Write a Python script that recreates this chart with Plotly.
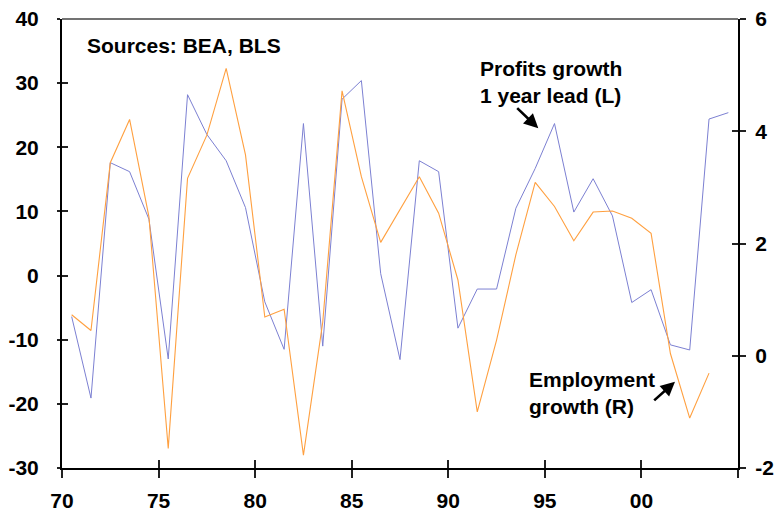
import plotly.graph_objects as go

# Data - annual values, plotted mid-year
profit_years = list(range(1970, 2005))
profits_growth = [-6.4, -19.1, 17.6, 16.2, 8.8, -13.0, 28.2, 22.0, 17.9, 10.6,
                  -4.1, -11.5, 23.7, -11.0, 27.5, 30.4, 0.3, -13.1, 17.9, 16.2,
                  -8.2, -2.1, -2.1, 10.5, 16.7, 23.7, 9.9, 15.1, 9.3, -4.2,
                  -2.2, -10.8, -11.6, 24.4, 25.4]

emp_years = list(range(1970, 2004))
employment_growth = [0.73, 0.45, 3.44, 4.21, 2.48, -1.65, 3.16, 3.93, 5.12, 3.58,
                     0.69, 0.83, -1.77, 0.6, 4.72, 3.19, 2.02, 2.6, 3.19, 2.54,
                     1.35, -1.0, 0.28, 1.8, 3.09, 2.66, 2.05, 2.56, 2.58, 2.45,
                     2.18, 0.04, -1.11, -0.31]

x_tickvals = [1970, 1975, 1980, 1985, 1990, 1995, 2000, 2005]
x_ticktext = ["70", "75", "80", "85", "90", "95", "00", ""]
left_ticks = [-30, -20, -10, 0, 10, 20, 30, 40]
right_ticks = [-2, 0, 2, 4, 6]

BLUE = "#7c80d2"
ORANGE = "#ffa040"
FONT = "Arial, Liberation Sans, sans-serif"


def bold(labels):
    return ["<b>%s</b>" % t if t != "" else "" for t in labels]


fig = go.Figure()
fig.add_trace(go.Scatter(x=[y + 0.5 for y in emp_years], y=employment_growth,
                         mode="lines", line=dict(color=ORANGE, width=1.1),
                         yaxis="y2", showlegend=False))
fig.add_trace(go.Scatter(x=[y + 0.5 for y in profit_years], y=profits_growth,
                         mode="lines", line=dict(color=BLUE, width=1.0),
                         yaxis="y", showlegend=False))
# dummy traces so the overlay tick axes render
for xa, ya in [("x2", "y"), ("x", "y3"), ("x", "y4")]:
    fig.add_trace(go.Scatter(x=[None], y=[None], xaxis=xa, yaxis=ya,
                             showlegend=False, hoverinfo="skip"))

tickfont = dict(family=FONT, size=21, color="black")
XR = [1970, 2005]

fig.update_layout(
    width=778, height=519,
    margin=dict(l=62, r=40, t=19, b=51, autoexpand=False),
    paper_bgcolor="white", plot_bgcolor="white",
    font=dict(family=FONT, color="black"),
    xaxis=dict(range=XR, tickvals=x_tickvals, ticktext=bold(x_ticktext),
               ticks="outside", ticklen=8, tickwidth=1.5, tickcolor="#222",
               showline=True, linecolor="black", linewidth=2,
               showgrid=False, zeroline=False, tickfont=tickfont,
               ticklabelstandoff=5, anchor="y", automargin=False),
    xaxis2=dict(range=XR, tickvals=x_tickvals, overlaying="x", side="bottom",
                ticks="inside", ticklen=8, tickwidth=1.5, tickcolor="#222",
                showticklabels=False, showline=False, showgrid=False,
                zeroline=False, anchor="y", automargin=False),
    yaxis=dict(range=[-30, 40], tickvals=left_ticks,
               ticktext=bold([str(v) for v in left_ticks]), ticks="outside",
               ticklen=3, tickwidth=1.5, tickcolor="#222",
               showline=True, linecolor="black", linewidth=2,
               showgrid=False, zeroline=False, tickfont=tickfont,
               ticklabelstandoff=14, automargin=False),
    yaxis2=dict(range=[-2, 6], tickvals=right_ticks,
                ticktext=bold([str(v) for v in right_ticks]), overlaying="y",
                side="right", ticks="outside", ticklen=6, tickwidth=1.5,
                tickcolor="#222", showline=True, linecolor="black",
                linewidth=2, showgrid=False, zeroline=False,
                tickfont=tickfont, ticklabelstandoff=5, automargin=False),
    yaxis3=dict(range=[-30, 40], tickvals=left_ticks, overlaying="y",
                side="left", ticks="inside", ticklen=6, tickwidth=1.5,
                tickcolor="#222", showticklabels=False, showline=False,
                showgrid=False, zeroline=False, automargin=False),
    yaxis4=dict(range=[-2, 6], tickvals=right_ticks, overlaying="y",
                side="right", ticks="inside", ticklen=6, tickwidth=1.5,
                tickcolor="#222", showticklabels=False, showline=False,
                showgrid=False, zeroline=False, automargin=False),
    shapes=[dict(type="line", xref="paper", yref="paper", x0=0, x1=1,
                 y0=1, y1=1, line=dict(color="#444", width=1.5))],
)

annfont = dict(family=FONT, size=21, color="black")
fig.add_annotation(text="<b>Sources: BEA, BLS</b>", xref="paper", yref="paper",
                   x=0.034, y=0.941, xanchor="left", yanchor="middle",
                   showarrow=False, font=annfont)
fig.add_annotation(text="<b>Profits growth<br>1 year lead (L)</b>", xref="paper",
                   yref="paper", x=0.615, y=0.86, xanchor="left",
                   yanchor="middle", align="left", showarrow=False,
                   font=annfont)
fig.add_annotation(text="<b>Employment<br>growth (R)</b>", xref="paper",
                   yref="paper", x=0.688, y=0.166, xanchor="left",
                   yanchor="middle", align="left", showarrow=False,
                   font=annfont)
fig.add_annotation(text="", xref="paper", yref="paper", x=0.7046, y=0.7566,
                   ax=-22.6, ay=-21.6, showarrow=True, arrowhead=2,
                   arrowsize=1.1, arrowwidth=2.6, arrowcolor="black")
fig.add_annotation(text="", xref="paper", yref="paper", x=0.9068, y=0.1922,
                   ax=-22.3, ay=20, showarrow=True, arrowhead=2,
                   arrowsize=1.1, arrowwidth=2.6, arrowcolor="black")

fig.write_html("out.html", config={"displayModeBar": False},
               post_script="document.body.style.margin='0';"
                           "document.body.style.overflow='hidden';")
